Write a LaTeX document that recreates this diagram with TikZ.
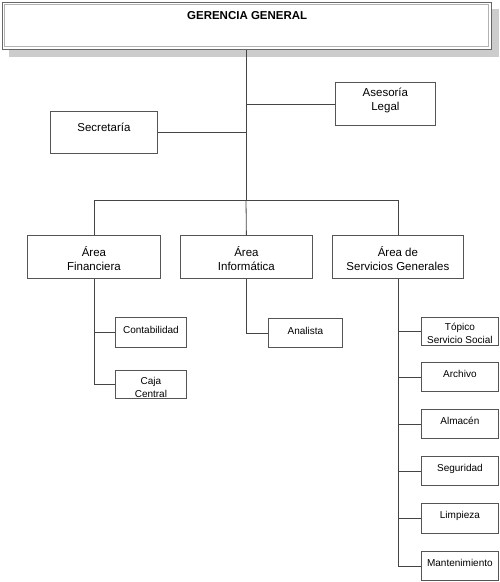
\documentclass[tikz,border=0pt]{standalone}
\usepackage{fontspec}
\setmainfont{Liberation Sans}
\definecolor{boxc}{HTML}{555555}
\definecolor{linec}{HTML}{444444}
\definecolor{shadowc}{HTML}{CCCCCC}
\begin{document}
\begin{tikzpicture}[x=1pt,y=-1pt,
  box/.style={draw=boxc, line width=0.8pt, fill=white, anchor=north west, inner sep=0pt},
  lbl/.style={anchor=north, inner sep=0pt, yshift=-5pt, align=center, text=black,
    font=\fontsize{11.5}{14}\selectfont},
  slbl/.style={anchor=north, inner sep=0pt, yshift=-5pt, align=center, text=black,
    font=\fontsize{10}{13}\selectfont},
  conn/.style={draw=linec, line width=0.8pt}]
\useasboundingbox (0,0) rectangle (500,582);
% top box with shadow
\fill[shadowc] (9,9) rectangle (499,57);
\node[box, draw=gray!80!black, line width=1.4pt, minimum width=489pt, minimum height=47pt,
  label={[lbl, yshift=-4pt, font=\bfseries\fontsize{11.5}{14}\selectfont]north:GERENCIA GENERAL}] (gg) at (2,2) {};
\draw[gray!60, line width=0.5pt] (4.5,4.5) rectangle (488.5,46.5);
% second level
\node[box, minimum width=100pt, minimum height=43pt, label={[lbl,yshift=-1pt]north:Asesoría\\Legal}] (al) at (335,82) {};
\node[box, minimum width=107pt, minimum height=42pt, label={[lbl,yshift=-7pt]north:Secretaría}] (sec) at (50,111) {};
% areas
\node[box, minimum width=133pt, minimum height=43pt, label={[lbl,yshift=-6pt]north:Área\\Financiera}] (af) at (27,235) {};
\node[box, minimum width=132pt, minimum height=43pt, label={[lbl,yshift=-6pt]north:Área\\Informática}] (ai) at (180,235) {};
\node[box, minimum width=131pt, minimum height=43pt, label={[lbl,yshift=-6pt]north:Área de\\Servicios Generales}] (asg) at (332,235) {};
% financiera children
\node[box, minimum width=71pt, minimum height=30pt, label={[slbl,yshift=-4pt]north:Contabilidad}] (cont) at (115,317) {};
\node[box, minimum width=71pt, minimum height=28pt, label={[slbl,yshift=-2pt]north:Caja\\Central}] (caja) at (115,370) {};
% informatica child
\node[box, minimum width=74pt, minimum height=29pt, label={[slbl,yshift=-4pt]north:Analista}] (ana) at (268,318) {};
% servicios children
\node[box, minimum width=77pt, minimum height=28pt, label={[slbl,yshift=-1pt]north:Tópico\\Servicio Social}] (top) at (421,317) {};
\node[box, minimum width=77pt, minimum height=29pt, label={[slbl,yshift=-3pt]north:Archivo}] (arc) at (421,362) {};
\node[box, minimum width=77pt, minimum height=29pt, label={[slbl,yshift=-3pt]north:Almacén}] (alm) at (421,409) {};
\node[box, minimum width=77pt, minimum height=29pt, label={[slbl,yshift=-3pt]north:Seguridad}] (seg) at (421,456) {};
\node[box, minimum width=77pt, minimum height=30pt, label={[slbl,yshift=-3pt]north:Limpieza}] (lim) at (421,503) {};
\node[box, minimum width=77pt, minimum height=29pt, label={[slbl,yshift=-3pt]north:Mantenimiento}] (man) at (421,551) {};
% connectors
\coordinate (bus) at (246,200);
\coordinate (busL) at (af.north |- bus);
\coordinate (busR) at (asg.north |- bus);
\draw[conn] (gg.south -| bus) -- (bus);
\draw[conn] (al.west) -- (al.west -| bus);
\draw[conn] (sec.east) -- (sec.east -| bus);
\draw[conn] (busL) -- (busR);
\draw[conn] (busL) -- (af.north);
\draw[conn] (bus) -- (ai.north);
\draw[conn] (busR) -- (asg.north);
\draw[conn] (af.south) |- (caja.west);
\draw[conn] (cont.west) -- (cont.west -| af.south);
\draw[conn] (ai.south) |- (ana.west);
\draw[conn] (asg.south) |- (man.west);
\foreach \n in {top,arc,alm,seg,lim} \draw[conn] (\n.west) -- (\n.west -| asg.south);
\end{tikzpicture}
\end{document}
